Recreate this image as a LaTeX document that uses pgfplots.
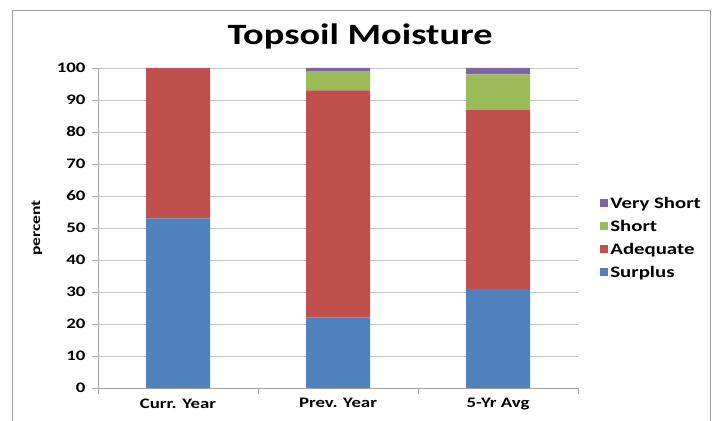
\documentclass[border=0pt]{standalone}
\usepackage{fontspec}
\setmainfont{Carlito}[FakeStretch=1.3]
\usepackage{pgfplots}
\pgfplotsset{compat=1.18}
\definecolor{cSur}{RGB}{79,129,189}
\definecolor{cAde}{RGB}{192,80,77}
\definecolor{cSho}{RGB}{155,187,89}
\definecolor{cVS}{RGB}{128,100,162}
\begin{document}
\begin{tikzpicture}[x=1pt,y=1pt]
\begin{axis}[
  at={(98pt,32pt)}, anchor=south west,
  scale only axis, width=480pt, height=320pt,
  ybar stacked, bar width=64pt,
  xmin=-0.5, xmax=2.5, ymin=0, ymax=100,
  ytick distance=10,
  xtick={0,1,2}, xticklabels={Curr. Year, Prev. Year, 5-Yr Avg},
  minor xtick={-0.5,0.5,1.5,2.5},
  major x tick style={draw=none},
  minor x tick style={gray!70},
  y tick style={gray!70},
  tick align=outside,
  major tick length=6pt, minor tick length=6pt,
  axis x line*=bottom, axis y line*=left,
  axis line style={gray!70, -},
  ymajorgrids, grid style={gray!45, line width=0.8pt},
  ticklabel style={font=\fontsize{14.5}{17}\selectfont\bfseries},
  yticklabel style={xshift=-3pt},
  xticklabel style={yshift=-1pt},
  /pgf/number format/assume math mode=true,
  legend style={at={(1.04,0.61)}, anchor=north west, draw=none, fill=none,
    font=\fontsize{16}{19}\selectfont\bfseries, row sep=6.3pt,
    /tikz/every even column/.append style={column sep=2pt}},
  legend cell align=left,
  legend image code/.code={\fill[#1] (0pt,-4pt) rectangle (8pt,4pt);},
  reverse legend,
]
\addplot[fill=cSur, draw=none] coordinates {(0,53) (1,22) (2,31)};
\addplot[fill=cAde, draw=none] coordinates {(0,47) (1,71) (2,56)};
\addplot[fill=cSho, draw=none] coordinates {(0,0) (1,6) (2,11)};
\addplot[fill=cVS, draw=none] coordinates {(0,0) (1,1) (2,2)};
\legend{Surplus, Adequate, Short, Very Short}
\end{axis}
\draw[gray!75, line width=1pt] (12,-5) -- (12,409) -- (710,409) -- (710,-5);
\node[font=\fontsize{29.5}{34}\selectfont\bfseries] at (360,384) {Topsoil Moisture};
\node[font=\fontsize{13.5}{16}\selectfont\bfseries, rotate=90] at (37,192) {percent};
\pgfresetboundingbox
\path[use as bounding box] (0,0) rectangle (714,420);
\end{tikzpicture}
\end{document}
